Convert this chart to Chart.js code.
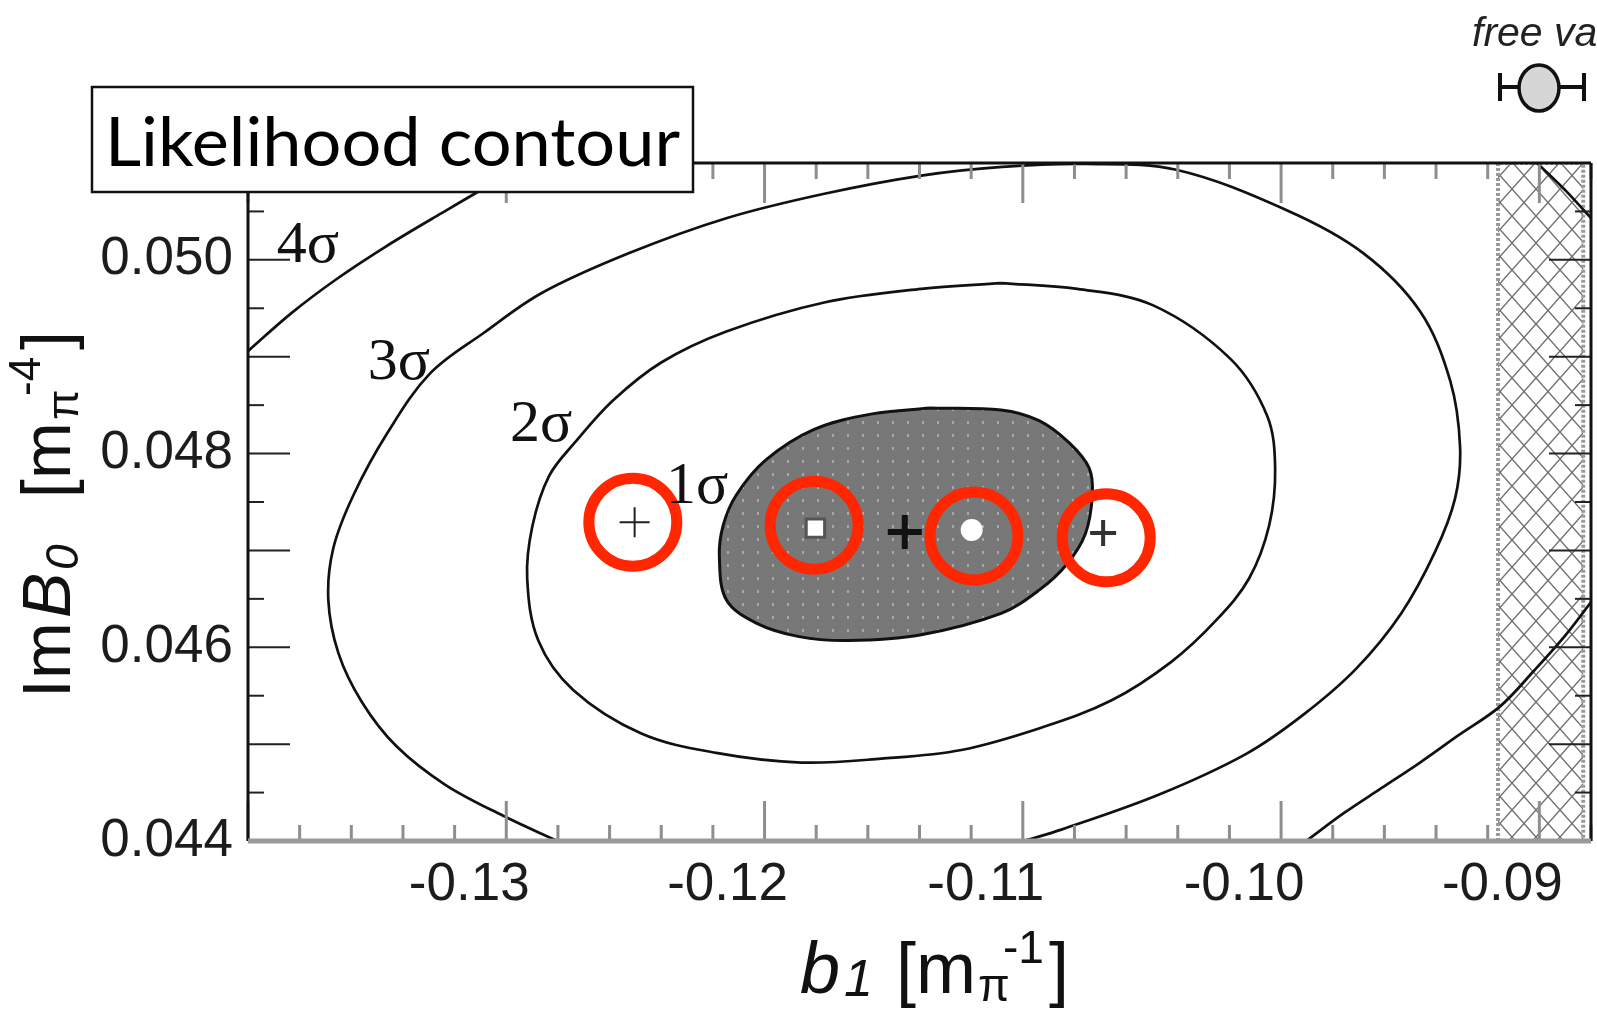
<!DOCTYPE html>
<html>
<head>
<meta charset="utf-8">
<script src="https://cdn.jsdelivr.net/npm/chart.js@4.4.1/dist/chart.umd.min.js"></script>
<style>
  html, body { margin: 0; padding: 0; background: #fff; }
  canvas { display: block; }
</style>
</head>
<body>
<canvas id="contour" width="1597" height="1009"></canvas>
<script>
// axis ranges and tick labels (b1 in m_pi^-1, ImB0 in m_pi^-4)
const xRange = [-0.140, -0.088];
const yRange = [0.044, 0.051];
const xTickValues = [-0.13, -0.12, -0.11, -0.10, -0.09];
const yTickValues = [0.044, 0.046, 0.048, 0.050];

// likelihood contours (closed ones start at their top)
const sigma1X = [-0.11359, -0.11084, -0.10937, -0.10820, -0.10743, -0.10731, -0.10758, -0.10832, -0.10937, -0.11084, -0.11393, -0.11676, -0.11866, -0.12032, -0.12148, -0.12175, -0.12160, -0.12110, -0.11997, -0.11808, -0.11583, -0.11359];
const sigma1Y = [0.04847, 0.04845, 0.04834, 0.04811, 0.04785, 0.04757, 0.04717, 0.04685, 0.04659, 0.04635, 0.04613, 0.04607, 0.04611, 0.04625, 0.04649, 0.04694, 0.04726, 0.04757, 0.04793, 0.04825, 0.04841, 0.04847];

const sigma2X = [-0.11084, -0.10789, -0.10495, -0.10197, -0.10054, -0.10023, -0.10046, -0.10124, -0.10251, -0.10425, -0.10658, -0.10929, -0.11238, -0.11548, -0.11858, -0.12187, -0.12477, -0.12741, -0.12876, -0.12919, -0.12899, -0.12834, -0.12729, -0.12586, -0.12400, -0.12148, -0.11769, -0.11393, -0.11084];
const sigma2Y = [0.04976, 0.04970, 0.04953, 0.04898, 0.04839, 0.04785, 0.04726, 0.04671, 0.04628, 0.04585, 0.04545, 0.04517, 0.04494, 0.04485, 0.04481, 0.04491, 0.04511, 0.04556, 0.04607, 0.04671, 0.04725, 0.04777, 0.04813, 0.04855, 0.04894, 0.04926, 0.04956, 0.04970, 0.04976];

const sigma3X = [-0.12803, -0.13012, -0.13236, -0.13426, -0.13558, -0.13650, -0.13689, -0.13670, -0.13592, -0.13461, -0.13294, -0.13085, -0.12861, -0.12524, -0.12148, -0.11773, -0.11393, -0.11080, -0.10755, -0.10406, -0.09976, -0.09682, -0.09462, -0.09345, -0.09307, -0.09326, -0.09403, -0.09535, -0.09709, -0.09911, -0.10135, -0.10472, -0.10848, -0.10995];
const sigma3Y = [0.04400, 0.04426, 0.04458, 0.04498, 0.04543, 0.04594, 0.04649, 0.04702, 0.04757, 0.04821, 0.04883, 0.04925, 0.04966, 0.05007, 0.05043, 0.05068, 0.05087, 0.05096, 0.05099, 0.05093, 0.05051, 0.05007, 0.04947, 0.04875, 0.04807, 0.04754, 0.04699, 0.04635, 0.04578, 0.04531, 0.04490, 0.04448, 0.04412, 0.04400];

// 4 sigma only shows in three corners
const sigma4aX = [-0.13999, -0.13832, -0.13658, -0.13465, -0.13252, -0.13019, -0.12903];
const sigma4aY = [0.04906, 0.04945, 0.04980, 0.05014, 0.05048, 0.05084, 0.05100];
const sigma4bX = [-0.09903, -0.09756, -0.09609, -0.09462, -0.09314, -0.09152, -0.09020, -0.08900, -0.08796];
const sigma4bY = [0.04400, 0.04429, 0.04455, 0.04481, 0.04509, 0.04539, 0.04576, 0.04612, 0.04648];
const sigma4cX = [-0.09009, -0.08993, -0.08896, -0.08796];
const sigma4cY = [0.05100, 0.05096, 0.05071, 0.05042];

// excluded (hatched) band on the right
const hatchX = [-0.09160, -0.09160, -0.08830, -0.08830, -0.09160];
const hatchY = [0.04400, 0.05100, 0.05100, 0.04400, 0.04400];

// fit results
const thinPlusX = [-0.12503], thinPlusY = [0.04729];
const squareX = [-0.11803], squareY = [0.04723];
const bestX = [-0.11457], bestY = [0.04719];
const dotX = [-0.11198], dotY = [0.04721];
const plusX = [-0.10689], plusY = [0.04718];

// red rings drawn over the picture
const ringX = [-0.12510, -0.11808, -0.11189, -0.10677];
const ringY = [0.04729, 0.04726, 0.04715, 0.04713];

// contour level labels
const sigmaText = ['4σ', '3σ', '2σ', '1σ'];
const sigmaTextX = [-0.13768, -0.13416, -0.12865, -0.12261];
const sigmaTextY = [0.05014, 0.04893, 0.04829, 0.04765];

const pts = (xs, ys) => xs.map((x, i) => ({x: x, y: ys[i]}));

const canvas = document.getElementById('contour');
const mainCtx = canvas.getContext('2d');

function makeDots() {
  const c = document.createElement('canvas');
  c.width = 15; c.height = 13;
  const g = c.getContext('2d');
  g.fillStyle = '#787878';
  g.fillRect(0, 0, 15, 13);
  g.fillStyle = '#a8a8a8';
  g.fillRect(7, 5, 2, 3);
  return mainCtx.createPattern(c, 'repeat');
}

function makeHatch() {
  const c = document.createElement('canvas');
  c.width = 24; c.height = 27;
  const g = c.getContext('2d');
  g.fillStyle = '#ffffff';
  g.fillRect(0, 0, 24, 27);
  g.strokeStyle = '#6f6f6f';
  g.lineWidth = 1.4;
  g.beginPath();
  g.moveTo(0, 0); g.lineTo(24, 27);
  g.moveTo(24, 0); g.lineTo(0, 27);
  g.stroke();
  return mainCtx.createPattern(c, 'repeat');
}

function contourSet(xs, ys, extra) {
  return Object.assign({
    data: pts(xs, ys),
    showLine: true,
    tension: 0.35,
    borderColor: '#111',
    borderWidth: 2.7,
    pointRadius: 0,
    fill: false,
    order: 6
  }, extra || {});
}

function line(ctx, x1, y1, x2, y2) {
  ctx.beginPath();
  ctx.moveTo(x1, y1);
  ctx.lineTo(x2, y2);
  ctx.stroke();
}

// draws text made of several runs (normal, italic, sub- and superscripts)
function drawRuns(ctx, runs) {
  runs.forEach(r => {
    ctx.font = r.font;
    ctx.fillText(r.text, r.x, r.dy || 0);
  });
}

const frameAndTicks = {
  id: 'frameAndTicks',
  afterDatasetsDraw(chart) {
    const {ctx, chartArea: a, scales: {x, y}} = chart;
    ctx.save();
    ctx.lineCap = 'butt';

    // ticks inside the frame, ROOT style
    ctx.strokeStyle = '#8e8e8e';
    ctx.lineWidth = 3;
    for (let i = 0; i <= 26; i++) {
      const v = xRange[0] + i * 0.002;
      const px = x.getPixelForValue(v);
      const major = Math.abs(v * 100 - Math.round(v * 100)) < 1e-6;
      const len = major ? 40 : 16;
      line(ctx, px, a.bottom, px, a.bottom - len);
      line(ctx, px, a.top, px, a.top + len);
    }
    ctx.strokeStyle = '#222';
    ctx.lineWidth = 2;
    for (let i = 0; i <= 14; i++) {
      const v = yRange[0] + i * 0.0005;
      const py = y.getPixelForValue(v);
      const major = i % 2 === 0;
      const len = major ? 42 : 16;
      line(ctx, a.left, py, a.left + len, py);
      line(ctx, a.right, py, a.right - len, py);
    }

    // frame
    ctx.strokeStyle = '#111';
    ctx.lineWidth = 3;
    line(ctx, a.left, a.top, a.right, a.top);
    line(ctx, a.left, a.top, a.left, a.bottom);
    line(ctx, a.right, a.top, a.right, a.bottom);
    ctx.strokeStyle = '#9a9a9a';
    ctx.lineWidth = 5;
    line(ctx, a.left, a.bottom, a.right, a.bottom);

    // contour level labels
    ctx.fillStyle = '#111';
    ctx.font = '60px "Liberation Serif"';
    ctx.textAlign = 'center';
    ctx.textBaseline = 'middle';
    sigmaText.forEach((t, i) => {
      ctx.fillText(t, x.getPixelForValue(sigmaTextX[i]), y.getPixelForValue(sigmaTextY[i]));
    });
    ctx.restore();
  },
  afterDraw(chart) {
    const ctx = chart.ctx;
    ctx.save();
    ctx.fillStyle = '#111';
    ctx.textAlign = 'left';
    ctx.textBaseline = 'alphabetic';

    // x axis title: b1 [m_pi^-1]
    ctx.save();
    ctx.translate(800, 993);
    drawRuns(ctx, [
      {text: 'b', font: 'italic 72px "Liberation Sans"', x: 0},
      {text: '1', font: 'italic 52px "Liberation Sans"', x: 44, dy: 3},
      {text: '[m', font: '72px "Liberation Sans"', x: 96},
      {text: 'π', font: '46px "Liberation Sans"', x: 178, dy: 8},
      {text: '-1', font: '46px "Liberation Sans"', x: 203, dy: -30},
      {text: ']', font: '72px "Liberation Sans"', x: 249}
    ]);
    ctx.restore();

    // y axis title: ImB0 [m_pi^-4]
    ctx.save();
    ctx.translate(70, 698);
    ctx.rotate(-Math.PI / 2);
    drawRuns(ctx, [
      {text: 'Im', font: '68px "Liberation Sans"', x: 0},
      {text: 'B', font: 'italic 68px "Liberation Sans"', x: 80},
      {text: '0', font: 'italic 46px "Liberation Sans"', x: 128, dy: 8},
      {text: '[m', font: '68px "Liberation Sans"', x: 200},
      {text: 'π', font: '44px "Liberation Sans"', x: 278, dy: 8},
      {text: '-4', font: '44px "Liberation Sans"', x: 302, dy: -30},
      {text: ']', font: '68px "Liberation Sans"', x: 348}
    ]);
    ctx.restore();

    // title box
    ctx.fillStyle = '#fff';
    ctx.fillRect(92, 87, 601, 105);
    ctx.strokeStyle = '#111';
    ctx.lineWidth = 2.5;
    ctx.strokeRect(92, 87, 601, 105);
    ctx.fillStyle = '#000';
    ctx.font = '68px Lato';
    const w = ctx.measureText('Likelihood contour').width;
    ctx.save();
    ctx.translate(105, 166);
    ctx.scale(575 / w, 1);
    ctx.fillText('Likelihood contour', 0, 0);
    ctx.restore();

    // cut-off legend of the neighbouring panel
    ctx.fillStyle = '#222';
    ctx.font = 'italic 41px "Liberation Sans"';
    ctx.fillText('free value', 1472, 46);
    ctx.strokeStyle = '#111';
    ctx.lineWidth = 4;
    line(ctx, 1500, 87, 1584, 87);
    line(ctx, 1500, 73, 1500, 101);
    line(ctx, 1584, 73, 1584, 101);
    ctx.beginPath();
    ctx.ellipse(1539, 88, 20, 23, 0, 0, Math.PI * 2);
    ctx.fillStyle = '#d6d6d6';
    ctx.fill();
    ctx.lineWidth = 3.5;
    ctx.stroke();
    ctx.restore();
  }
};

new Chart(canvas, {
  type: 'scatter',
  data: {
    datasets: [
      {data: pts(ringX, ringY), pointRadius: 44, pointBorderWidth: 11, pointBorderColor: 'rgb(255,38,0)', pointBackgroundColor: 'rgba(0,0,0,0)', order: 0},
      {data: pts(bestX, bestY), pointStyle: 'cross', pointRadius: 17, pointBorderWidth: 6, pointBorderColor: '#111', order: 1},
      {data: pts(thinPlusX, thinPlusY), pointStyle: 'cross', pointRadius: 15, pointBorderWidth: 2, pointBorderColor: '#222', order: 1},
      {data: pts(plusX, plusY), pointStyle: 'cross', pointRadius: 13, pointBorderWidth: 4, pointBorderColor: '#333', order: 1},
      {data: pts(squareX, squareY), pointStyle: 'rect', pointRadius: 13, pointBorderWidth: 3, pointBorderColor: '#555', pointBackgroundColor: '#fff', order: 1},
      {data: pts(dotX, dotY), pointStyle: 'circle', pointRadius: 11, pointBorderWidth: 0, pointBackgroundColor: '#fff', order: 1},
      contourSet(sigma1X, sigma1Y, {fill: 'shape', backgroundColor: makeDots(), borderWidth: 3, order: 5}),
      contourSet(sigma2X, sigma2Y),
      contourSet(sigma3X, sigma3Y),
      contourSet(sigma4aX, sigma4aY),
      contourSet(sigma4bX, sigma4bY),
      contourSet(sigma4cX, sigma4cY, {tension: 0.2}),
      {data: pts(hatchX, hatchY), showLine: true, tension: 0, borderColor: '#9a9a9a', borderWidth: 4, borderDash: [3, 2], pointRadius: 0, fill: 'shape', backgroundColor: makeHatch(), order: 10}
    ]
  },
  options: {
    responsive: false,
    animation: false,
    events: [],
    layout: {autoPadding: false, padding: {left: 0, right: 6, top: 163, bottom: 0}},
    plugins: {legend: {display: false}, tooltip: {enabled: false}},
    scales: {
      x: {
        type: 'linear',
        min: xRange[0],
        max: xRange[1],
        afterFit(scale) {
          scale.height = 168;
          scale.paddingLeft = 0;
          scale.paddingRight = 0;
        },
        afterBuildTicks(scale) { scale.ticks = xTickValues.map(v => ({value: v})); },
        grid: {display: false, drawTicks: false},
        border: {display: false},
        ticks: {
          padding: 13,
          labelOffset: -37,
          maxRotation: 0,
          autoSkip: false,
          color: '#1c1c1c',
          font: {family: 'Liberation Sans', size: 53},
          callback: v => v.toFixed(2)
        }
      },
      y: {
        type: 'linear',
        min: yRange[0],
        max: yRange[1],
        afterFit(scale) {
          scale.width = 248;
          scale.paddingTop = 0;
          scale.paddingBottom = 0;
        },
        afterBuildTicks(scale) { scale.ticks = yTickValues.map(v => ({value: v})); },
        grid: {display: false, drawTicks: false},
        border: {display: false},
        ticks: {
          padding: 15,
          autoSkip: false,
          color: '#1c1c1c',
          font: {family: 'Liberation Sans', size: 53},
          callback: v => v.toFixed(3)
        }
      }
    }
  },
  plugins: [frameAndTicks]
});
</script>
</body>
</html>
